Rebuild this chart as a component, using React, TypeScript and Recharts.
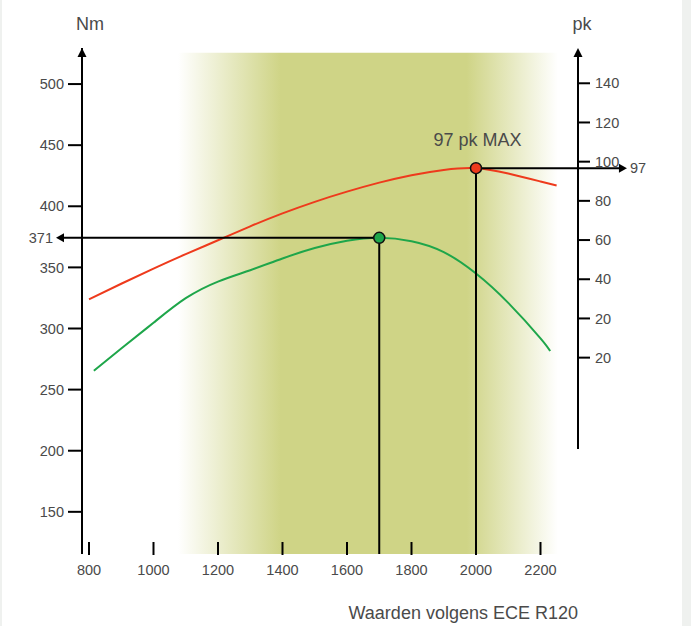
import React from 'react';
import { ComposedChart, Line, XAxis, YAxis, ReferenceArea, ReferenceLine, ReferenceDot } from 'recharts';

// ---- data ----
const powerRpm = [800, 900, 1000, 1100, 1200, 1300, 1400, 1500, 1600, 1700, 1800, 1900, 2000, 2100, 2200, 2250];
const powerPk = [29.8, 37.7, 45.4, 52.8, 59.9, 67.0, 73.6, 79.5, 84.7, 89.3, 93.1, 95.8, 96.7, 94.0, 89.9, 87.8];
const torqueRpm = [815, 900, 1000, 1100, 1200, 1300, 1400, 1500, 1600, 1700, 1800, 1900, 2000, 2100, 2200, 2230];
const torqueNm = [265.4, 283.6, 304.7, 324.8, 338.4, 347.7, 357.3, 365.8, 371.8, 374.2, 371.4, 362.5, 345, 321, 292, 281.5];

const xTicks = [800, 1000, 1200, 1400, 1600, 1800, 2000, 2200];
const nmTicks = [150, 200, 250, 300, 350, 400, 450, 500];
const pkTicks = [0, 20, 40, 60, 80, 100, 120, 140];
const pkTickLabels = ['20', '20', '40', '60', '80', '100', '120', '140'];

const torquePeak = { rpm: 1700, nm: 374.2, label: '371' };
const powerPeak = { rpm: 2000, pk: 96.7, label: '97', title: '97 pk MAX' };

const X_DOMAIN: [number, number] = [778.3, 2316.3];
const NM_DOMAIN: [number, number] = [115.5, 529.5];
const PK_DOMAIN: [number, number] = [-100.2, 158];
const bandRange = { x1: 1076, x2: 2254, top: 525.6 };
const torqueArrowTip = 697.7;
const powerArrowTip = 2468;
const pkAxisBottom = -46.6;

const powerData = powerRpm.map((rpm, i) => ({ rpm, v: powerPk[i] }));
const torqueData = torqueRpm.map((rpm, i) => ({ rpm, v: torqueNm[i] }));

const FONT = '"Liberation Sans", Arial, Helvetica, sans-serif';
const TXT = '#4a4a4a';
const RED = '#ee3a1c';
const GREEN = '#1ea64a';
const BAND = '#cfd486';

const XTick = (props: any) => {
  const { x, y, payload } = props;
  return (
    <g>
      <line x1={x} x2={x} y1={y - 12} y2={y + 1} stroke="#000" strokeWidth={2} />
      <text x={x} y={y + 21} textAnchor="middle" fontSize={14.5} fill={TXT} fontFamily={FONT}>
        {payload.value}
      </text>
    </g>
  );
};

const UpArrow = (props: any) => {
  const { cx, cy } = props;
  return <polygon points={`${cx},${cy} ${cx - 4.5},${cy + 9} ${cx + 4.5},${cy + 9}`} fill="#000" />;
};

const LeftArrow = (label: string) => (props: any) => {
  const { cx, cy } = props;
  return (
    <g>
      <polygon points={`${cx},${cy} ${cx + 8},${cy - 4.5} ${cx + 8},${cy + 4.5}`} fill="#000" />
      <text x={cx - 3} y={cy} dy="0.35em" textAnchor="end" fontSize={14.5} fill={TXT} fontFamily={FONT}>
        {label}
      </text>
    </g>
  );
};

const RightArrow = (label: string) => (props: any) => {
  const { cx, cy } = props;
  return (
    <g>
      <polygon points={`${cx},${cy} ${cx - 8},${cy - 4.5} ${cx - 8},${cy + 4.5}`} fill="#000" />
      <text x={cx + 3} y={cy} dy="0.35em" textAnchor="start" fontSize={14.5} fill={TXT} fontFamily={FONT}>
        {label}
      </text>
    </g>
  );
};

const PeakDot = (fill: string, title?: string) => (props: any) => {
  const { cx, cy } = props;
  return (
    <g>
      <circle cx={cx} cy={cy} r={5.5} fill={fill} stroke="#111" strokeWidth={1.5} />
      {title ? (
        <text x={cx + 1.5} y={cy - 22} textAnchor="middle" fontSize={18} fill={TXT} fontFamily={FONT}>
          {title}
        </text>
      ) : null}
    </g>
  );
};

export default function App() {
  return (
    <div style={{ position: 'absolute', left: 0, top: 0, width: 691, height: 626, background: '#fff', overflow: 'hidden' }}>
      <div style={{ position: 'absolute', left: 0, top: 0, width: 2, height: 626, background: '#eff1ef' }} />
      <div style={{ position: 'absolute', left: 682, top: 0, width: 9, height: 626, background: '#eff1ef' }} />
      <div style={{ position: 'absolute', left: 0, top: 0 }}>
        <ComposedChart width={691} height={626} margin={{ top: 48, right: 0, bottom: 0, left: 0 }}>
          <defs>
            <linearGradient id="bandGrad" x1="0" x2="1" y1="0" y2="0">
              <stop offset="0" stopColor={BAND} stopOpacity={0} />
              <stop offset="0.27" stopColor={BAND} stopOpacity={1} />
              <stop offset="0.76" stopColor={BAND} stopOpacity={1} />
              <stop offset="1" stopColor={BAND} stopOpacity={0} />
            </linearGradient>
          </defs>
          <XAxis
            dataKey="rpm"
            type="number"
            domain={X_DOMAIN}
            ticks={xTicks}
            interval={0}
            allowDataOverflow
            axisLine={false}
            tickLine={false}
            tickSize={0}
            tickMargin={0}
            height={72}
            tick={<XTick />}
          />
          <YAxis
            yAxisId="nm"
            orientation="left"
            type="number"
            domain={NM_DOMAIN}
            ticks={nmTicks}
            interval={0}
            allowDataOverflow
            width={82}
            axisLine={{ stroke: '#000', strokeWidth: 2 }}
            tickLine={{ stroke: '#000', strokeWidth: 2 }}
            tickSize={14}
            tickMargin={4}
            tick={{ fill: TXT, fontSize: 14.5, fontFamily: FONT }}
          />
          <YAxis
            yAxisId="pk"
            orientation="right"
            type="number"
            domain={PK_DOMAIN}
            ticks={pkTicks}
            interval={0}
            allowDataOverflow
            width={113}
            axisLine={false}
            tickLine={{ stroke: '#000', strokeWidth: 2 }}
            tickSize={12}
            tickMargin={5}
            tickFormatter={(v: number) => pkTickLabels[pkTicks.indexOf(v)] ?? String(v)}
            tick={{ fill: TXT, fontSize: 14.5, fontFamily: FONT }}
          />
          <ReferenceArea
            yAxisId="nm"
            x1={bandRange.x1}
            x2={bandRange.x2}
            y1={NM_DOMAIN[0]}
            y2={bandRange.top}
            fill="url(#bandGrad)"
            fillOpacity={1}
            stroke="none"
            ifOverflow="visible"
          />
          <Line
            yAxisId="pk"
            data={powerData}
            dataKey="v"
            type="natural"
            stroke={RED}
            strokeWidth={2}
            dot={false}
            activeDot={false}
            isAnimationActive={false}
          />
          <Line
            yAxisId="nm"
            data={torqueData}
            dataKey="v"
            type="natural"
            stroke={GREEN}
            strokeWidth={2}
            dot={false}
            activeDot={false}
            isAnimationActive={false}
          />
          {/* right axis line */}
          <ReferenceLine
            yAxisId="pk"
            segment={[{ x: X_DOMAIN[1], y: pkAxisBottom }, { x: X_DOMAIN[1], y: PK_DOMAIN[1] - 3 }]}
            stroke="#000"
            strokeWidth={2}
            ifOverflow="visible"
          />
          {/* torque peak guides */}
          <ReferenceLine
            yAxisId="nm"
            segment={[{ x: torqueArrowTip + 10, y: torquePeak.nm }, { x: torquePeak.rpm, y: torquePeak.nm }]}
            stroke="#000"
            strokeWidth={2}
            ifOverflow="visible"
          />
          <ReferenceLine
            yAxisId="nm"
            segment={[{ x: torquePeak.rpm, y: torquePeak.nm }, { x: torquePeak.rpm, y: NM_DOMAIN[0] }]}
            stroke="#000"
            strokeWidth={2}
            ifOverflow="visible"
          />
          {/* power peak guides */}
          <ReferenceLine
            yAxisId="pk"
            segment={[{ x: powerPeak.rpm, y: powerPeak.pk }, { x: powerArrowTip - 10, y: powerPeak.pk }]}
            stroke="#000"
            strokeWidth={2}
            ifOverflow="visible"
          />
          <ReferenceLine
            yAxisId="pk"
            segment={[{ x: powerPeak.rpm, y: powerPeak.pk }, { x: powerPeak.rpm, y: PK_DOMAIN[0] }]}
            stroke="#000"
            strokeWidth={2}
            ifOverflow="visible"
          />
          <ReferenceDot yAxisId="nm" x={X_DOMAIN[0]} y={NM_DOMAIN[1]} r={4} shape={UpArrow} ifOverflow="visible" />
          <ReferenceDot yAxisId="pk" x={X_DOMAIN[1]} y={PK_DOMAIN[1]} r={4} shape={UpArrow} ifOverflow="visible" />
          <ReferenceDot yAxisId="nm" x={torqueArrowTip} y={torquePeak.nm} r={4} shape={LeftArrow(torquePeak.label)} ifOverflow="visible" />
          <ReferenceDot yAxisId="pk" x={powerArrowTip} y={powerPeak.pk} r={4} shape={RightArrow(powerPeak.label)} ifOverflow="visible" />
          <ReferenceDot yAxisId="nm" x={torquePeak.rpm} y={torquePeak.nm} r={5.5} shape={PeakDot(GREEN)} ifOverflow="visible" />
          <ReferenceDot yAxisId="pk" x={powerPeak.rpm} y={powerPeak.pk} r={5.5} shape={PeakDot(RED, powerPeak.title)} ifOverflow="visible" />
          <text x={90} y={29.5} textAnchor="middle" fontSize={18} fill={TXT} fontFamily={FONT}>Nm</text>
          <text x={582} y={29.5} textAnchor="middle" fontSize={18} fill={TXT} fontFamily={FONT}>pk</text>
          <text x={578} y={619} textAnchor="end" fontSize={18} fill={TXT} fontFamily={FONT}>Waarden volgens ECE R120</text>
        </ComposedChart>
      </div>
    </div>
  );
}
